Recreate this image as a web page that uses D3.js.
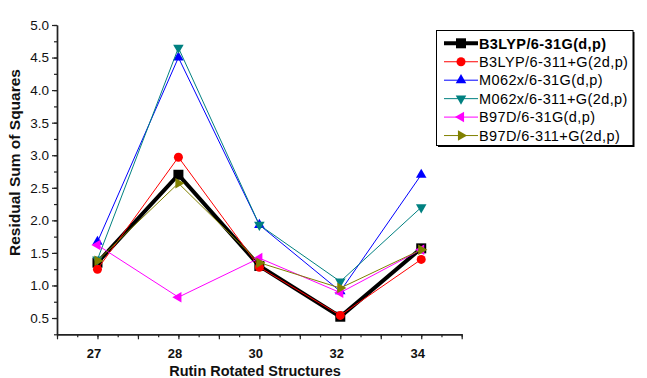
<!DOCTYPE html>
<html>
<head>
<meta charset="utf-8">
<script src="https://cdn.jsdelivr.net/npm/d3@7"></script>
<style>
  html, body { margin: 0; padding: 0; background: #fff; }
  svg { display: block; font-family: "Liberation Sans", Arial, sans-serif; }
</style>
</head>
<body>
<svg id="chart" width="647" height="378"></svg>
<script>
// Structure labels along the x axis (placed at positions 1..5)
const structures = ["27", "28", "30", "32", "34"];

// Residual sum of squares per method / basis set
const b3lyp631G = [1.35, 2.70, 1.30, 0.52, 1.57];
const b3lyp6311G = [1.25, 2.97, 1.28, 0.54, 1.40];
const m062x631G = [1.67, 4.50, 1.93, 0.91, 2.70];
const m062x6311G = [1.40, 4.65, 1.93, 1.06, 2.20];
const b97d631G = [1.62, 0.82, 1.42, 0.89, 1.55];
const b97d6311G = [1.38, 2.57, 1.35, 0.96, 1.55];

const seriesNames = [
  "B3LYP/6-31G(d,p)",
  "B3LYP/6-311+G(2d,p)",
  "M062x/6-31G(d,p)",
  "M062x/6-311+G(2d,p)",
  "B97D/6-31G(d,p)",
  "B97D/6-311+G(2d,p)"
];

const yTickValues = [0.5, 1.0, 1.5, 2.0, 2.5, 3.0, 3.5, 4.0, 4.5, 5.0];

const series = [
  { name: seriesNames[0], values: b3lyp631G,  color: "#000000", width: 4, shape: "square", size: 100, rot: 0, bold: true },
  { name: seriesNames[1], values: b3lyp6311G, color: "#ff0000", width: 1, shape: "circle", size: 64, rot: 0 },
  { name: seriesNames[2], values: m062x631G,  color: "#0000ff", width: 1, shape: "triangle", size: 48, rot: 0 },
  { name: seriesNames[3], values: m062x6311G, color: "#008080", width: 1, shape: "triangle", size: 48, rot: 180 },
  { name: seriesNames[4], values: b97d631G,   color: "#ff00ff", width: 1, shape: "triangle", size: 48, rot: -90 },
  { name: seriesNames[5], values: b97d6311G,  color: "#808000", width: 1, shape: "triangle", size: 48, rot: 90 }
];

const svg = d3.select("#chart");

const x = d3.scaleLinear().domain([0.5, 5.5]).range([57, 461.7]);
const y = d3.scaleLinear().domain([0.25, 5.0]).range([334.3, 25]);

const symbolType = { square: d3.symbolSquare, circle: d3.symbolCircle, triangle: d3.symbolTriangle };

// ---- axes ----
const xMinor = d3.range(0.5, 5.5001, 0.25);
const xMajor = d3.range(0.5, 5.5001, 0.5);
const yMinor = d3.range(0.25, 5.0001, 0.25);

const axisColor = "#222";

const gxMinor = svg.append("g").attr("transform", `translate(0,${y.range()[0]})`)
  .call(d3.axisBottom(x).tickValues(xMinor).tickSize(3).tickSizeOuter(0).tickFormat(""));
const gx = svg.append("g").attr("transform", `translate(0,${y.range()[0]})`)
  .call(d3.axisBottom(x).tickValues(xMajor).tickSize(5).tickSizeOuter(0).tickPadding(9)
    .tickFormat(d => Number.isInteger(d) && d >= 1 && d <= structures.length ? structures[d - 1] : ""));

const gyMinor = svg.append("g").attr("transform", `translate(${x.range()[0]},0)`)
  .call(d3.axisLeft(y).tickValues(yMinor).tickSize(3).tickSizeOuter(0).tickFormat(""));
const gy = svg.append("g").attr("transform", `translate(${x.range()[0]},0)`)
  .call(d3.axisLeft(y).tickValues(yTickValues).tickSize(5).tickSizeOuter(0).tickPadding(3)
    .tickFormat(d3.format(".1f")));

[gxMinor, gx, gyMinor, gy].forEach(g => {
  g.selectAll("path.domain").attr("stroke", axisColor).attr("stroke-width", 1.4);
  g.selectAll(".tick line").attr("stroke", axisColor).attr("stroke-width", 1.2);
});

gx.selectAll(".tick text")
  .attr("font-family", "'Liberation Sans', Arial, sans-serif")
  .attr("font-size", 13).attr("font-weight", "bold").attr("fill", "#111").attr("dx", -4);
gy.selectAll(".tick text")
  .attr("font-family", "'Liberation Sans', Arial, sans-serif")
  .attr("font-size", 13.5).attr("fill", "#111");

// axis titles
svg.append("text")
  .attr("x", 255).attr("y", 375.5)
  .attr("text-anchor", "middle")
  .attr("font-size", 14.5).attr("font-weight", "bold").attr("fill", "#111")
  .text("Rutin Rotated Structures");

svg.append("text")
  .attr("transform", "translate(19.5,162.5) rotate(-90)")
  .attr("text-anchor", "middle")
  .attr("font-size", 15.5).attr("font-weight", "bold").attr("fill", "#111")
  .text("Residual Sum of Squares");

// ---- series: lines and markers ----
const line = d3.line().x((d, i) => x(i + 1)).y(d => y(d));

series.forEach(s => {
  const g = svg.append("g");
  g.append("path")
    .datum(s.values)
    .attr("fill", "none")
    .attr("stroke", s.color)
    .attr("stroke-width", s.width)
    .attr("stroke-linejoin", "miter")
    .attr("d", line);
  g.selectAll("path.mark")
    .data(s.values)
    .join("path")
    .attr("class", "mark")
    .attr("d", d3.symbol().type(symbolType[s.shape]).size(s.size)())
    .attr("fill", s.color)
    .attr("transform", (d, i) => `translate(${x(i + 1)},${y(d)}) rotate(${s.rot})`);
});

// ---- legend ----
const lg = { left: 436.5, top: 30.5, width: 196.5, height: 115, row: 18.45, firstRow: 12.8 };
const legend = svg.append("g");
// drop shadow
legend.append("rect")
  .attr("x", lg.left + 1.5).attr("y", lg.top + 1.5)
  .attr("width", lg.width).attr("height", lg.height)
  .attr("fill", "#000");
legend.append("rect")
  .attr("x", lg.left).attr("y", lg.top)
  .attr("width", lg.width).attr("height", lg.height)
  .attr("fill", "#fff").attr("stroke", "#000").attr("stroke-width", 1);

series.forEach((s, i) => {
  const cy = lg.top + lg.firstRow + i * lg.row;
  legend.append("line")
    .attr("x1", 444).attr("x2", 478).attr("y1", cy).attr("y2", cy)
    .attr("stroke", s.color).attr("stroke-width", s.width);
  legend.append("path")
    .attr("d", d3.symbol().type(symbolType[s.shape]).size(s.size)())
    .attr("fill", s.color)
    .attr("transform", `translate(461,${cy}) rotate(${s.rot})`);
  legend.append("text")
    .attr("x", 479).attr("y", cy).attr("dy", "0.36em")
    .attr("font-size", 14.5).attr("letter-spacing", 0.4)
    .attr("font-weight", s.bold ? "bold" : "normal")
    .attr("fill", "#000")
    .text(s.name);
});
</script>
</body>
</html>
